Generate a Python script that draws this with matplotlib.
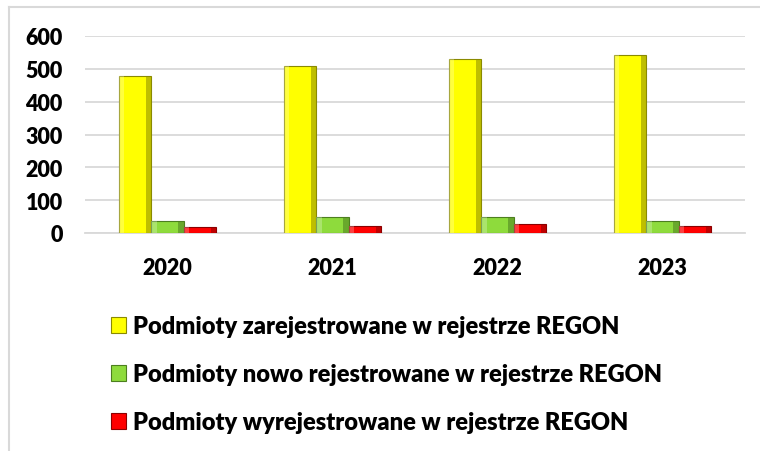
import matplotlib
matplotlib.use('Agg')
import matplotlib.pyplot as plt
import numpy as np
from matplotlib.lines import Line2D

years = ['2020', '2021', '2022', '2023']
zarejestrowane = [478, 510, 529, 541]
nowo = [37, 50, 48, 36]
wyrejestrowane = [17, 20, 26, 22]

labels = [
    'Podmioty zarejestrowane w rejestrze REGON',
    'Podmioty nowo rejestrowane w rejestrze REGON',
    'Podmioty wyrejestrowane w rejestrze REGON',
]
colors = ['#FFFF00', '#8EDB3C', '#FF0000']
edge_colors = ['#8A8A00', '#4C7F1F', '#8C0000']

plt.rcParams['font.family'] = ['Lato', 'DejaVu Sans']
plt.rcParams['font.weight'] = 'heavy'

fig = plt.figure(figsize=(7.6, 4.52), dpi=100)
ax = fig.add_axes([85 / 760, 1 - 234 / 452, 660 / 760, 197 / 452])

x = np.arange(len(years))
w = 0.195
series = [zarejestrowane, nowo, wyrejestrowane]
handles = []
for i, vals in enumerate(series):
    pos = x + (i - 1) * w
    bars = ax.bar(pos, vals, width=w, color=colors[i], edgecolor=edge_colors[i],
                  linewidth=0.8, zorder=3, label=labels[i])
    # darker right edge, lighter left edge for a bevel look
    ax.bar(pos + w * 0.42, vals, width=w * 0.16, color=edge_colors[i],
           alpha=0.55, linewidth=0, zorder=4)
    ax.bar(pos - w * 0.42, vals, width=w * 0.16, color='white',
           alpha=0.25, linewidth=0, zorder=4)
    handles.append(bars)

ax.set_xlim(-0.5, len(years) - 0.5)
ax.set_ylim(0, 600)
ax.set_yticks(range(0, 601, 100))
ax.set_xticks(x)
ax.set_xticklabels(years)
ax.tick_params(axis='both', length=0, labelsize=15.5)
ax.tick_params(axis='y', pad=16)
ax.tick_params(axis='x', pad=17)
for lbl in ax.get_xticklabels() + ax.get_yticklabels():
    lbl.set_fontweight('heavy')
ax.yaxis.grid(True, color='#D9D9D9', linewidth=1.3, zorder=0)
ax.set_axisbelow(True)
for side in ['top', 'right', 'left']:
    ax.spines[side].set_visible(False)
ax.spines['bottom'].set_color('#D9D9D9')
ax.spines['bottom'].set_linewidth(1.3)

fig.legend(handles=handles, labels=labels, loc='upper left',
           bbox_to_anchor=(90 / 760, 1 - 295 / 452), frameon=False,
           prop={'size': 17, 'weight': 'heavy'}, handlelength=0.62,
           handleheight=0.62, handletextpad=0.3, labelspacing=1.1)

# chart frame (partly cropped)
fig.add_artist(Line2D([9 / 760, 1], [1 - 8 / 452, 1 - 8 / 452],
                      transform=fig.transFigure, color='#D9D9D9', linewidth=1.5))
fig.add_artist(Line2D([9 / 760, 9 / 760], [0, 1 - 8 / 452],
                      transform=fig.transFigure, color='#D9D9D9', linewidth=1.5))

fig.savefig('out.png', dpi=100)
